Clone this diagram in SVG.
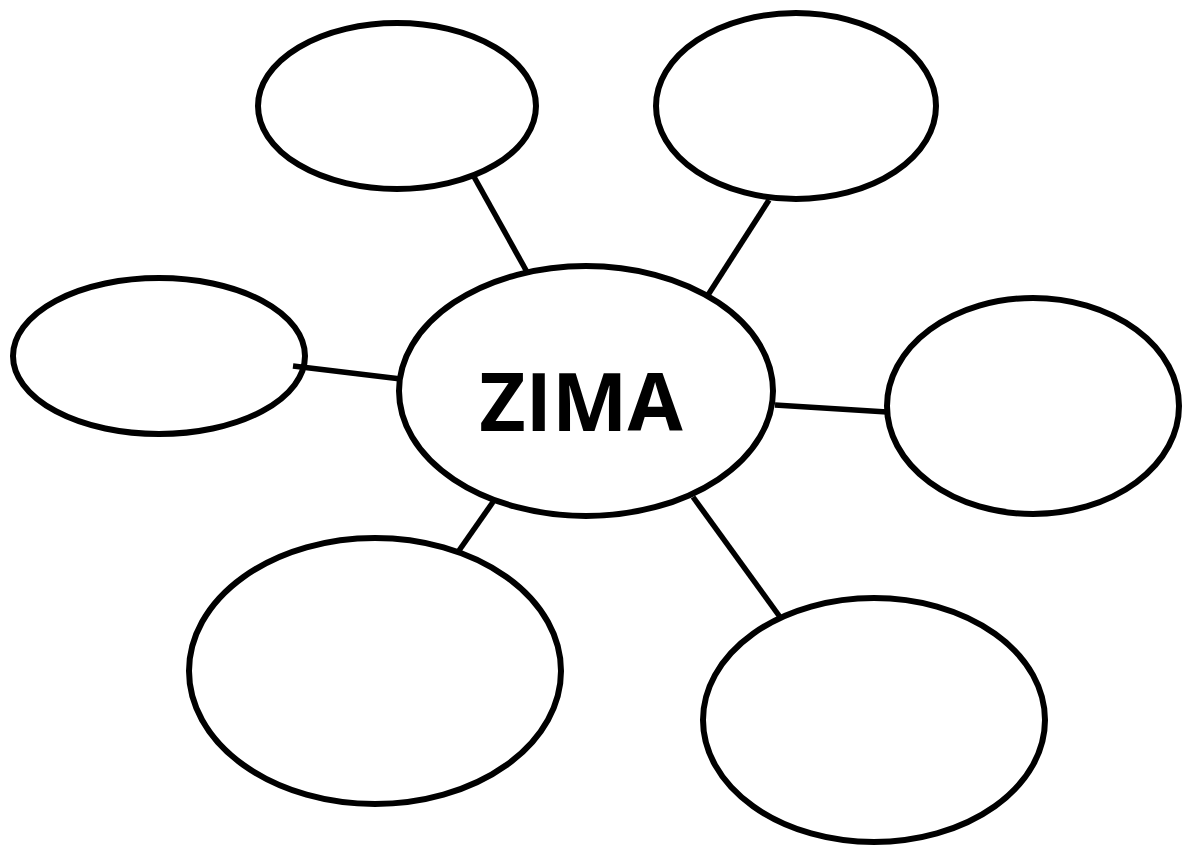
<svg xmlns="http://www.w3.org/2000/svg" width="1183" height="849" viewBox="0 0 1183 849">
<style>
.n{fill:none;stroke:#000;stroke-width:6}
.c line{stroke:#000;stroke-width:5.5}
.t{font-family:"Open Sans","Liberation Sans",sans-serif;font-weight:bold;font-size:80px;fill:#000}
</style>
<rect width="1183" height="849" fill="#fff"/>
<g class="c" id="connectors">
<line x1="473" y1="175" x2="527" y2="272"/>
<line x1="769" y1="200" x2="708" y2="295"/>
<line x1="293" y1="366" x2="401" y2="379"/>
<line x1="775" y1="405" x2="887" y2="412"/>
<line x1="493" y1="502" x2="458" y2="552"/>
<line x1="693" y1="497" x2="780" y2="617"/>
</g>
<g id="center"><ellipse class="n" cx="586" cy="391" rx="187" ry="125"/><text class="t" x="581" y="431" text-anchor="middle">ZIMA</text></g>
<g id="top-left"><ellipse class="n" cx="397" cy="106" rx="139" ry="83"/></g>
<g id="top-right"><ellipse class="n" cx="796" cy="106" rx="140" ry="93"/></g>
<g id="left"><ellipse class="n" cx="159" cy="356" rx="146" ry="78"/></g>
<g id="right"><ellipse class="n" cx="1033" cy="406" rx="146" ry="108"/></g>
<g id="bottom-left"><ellipse class="n" cx="375" cy="671" rx="186" ry="133"/></g>
<g id="bottom-right"><ellipse class="n" cx="874" cy="720" rx="171" ry="122"/></g>
</svg>
